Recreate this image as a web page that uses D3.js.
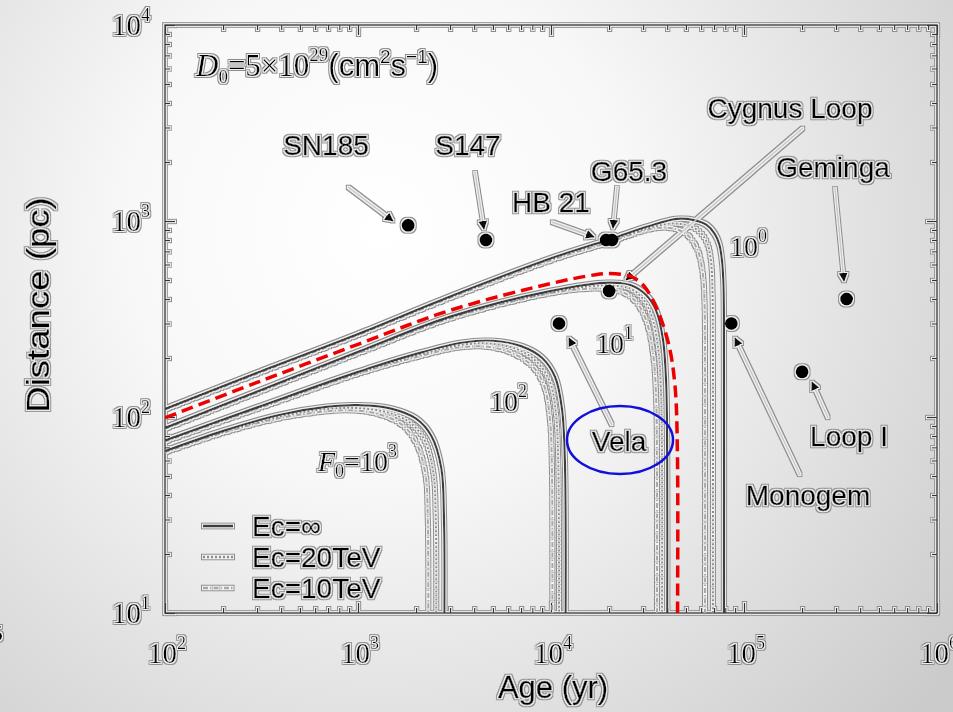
<!DOCTYPE html>
<html><head><meta charset="utf-8">
<script src="https://cdn.jsdelivr.net/npm/d3@7"></script>
<style>
html,body{margin:0;padding:0;background:#fff;}
svg{display:block;}
</style></head><body>
<svg id="chart" width="953" height="712"></svg>
<script>
// Age (yr) / distance (pc) tracks: maximum distance reached for each F0, three cutoff energies
const ecNames = ["Ec=∞", "Ec=20TeV", "Ec=10TeV"];

const f0e0_inf  = [[100,110],[300,168],[1000,265],[3000,412],[10000,645],[20000,805],[32000,940],[45000,1025],[55000,1010],[64000,955],[70500,860],[74500,760],[77000,620],[78300,470],[78700,300],[78700,8]];
const f0e0_20   = [[100,110],[300,168],[1000,264],[3000,410],[10000,640],[20000,795],[32000,920],[42000,970],[51000,950],[59000,880],[64500,770],[67500,620],[68700,430],[69000,220],[69000,8]];
const f0e0_10   = [[100,109],[300,166],[1000,262],[3000,405],[10000,630],[20000,780],[30000,890],[37000,925],[45000,905],[51500,840],[57500,710],[61000,550],[62500,370],[62800,180],[62800,8]];

const f0e1_inf  = [[100,88],[300,135],[1000,215],[3000,325],[10000,440],[20000,485],[26000,470],[31000,420],[35000,350],[38000,250],[39500,150],[40000,60],[40000,8]];
const f0e1_20   = [[100,88],[300,134],[1000,213],[3000,322],[10000,432],[16000,465],[21000,468],[26000,450],[30000,400],[33500,320],[36000,220],[37200,130],[37600,60],[37600,8]];
const f0e1_10   = [[100,87],[300,133],[1000,211],[3000,318],[9000,420],[14000,448],[19000,450],[24000,430],[28000,380],[31500,300],[34000,200],[35100,120],[35400,55],[35400,8]];

const f0e2_inf  = [[100,76],[300,112],[1000,170],[2000,210],[3500,240],[5000,245],[7000,230],[9000,200],[10500,160],[11400,110],[11800,60],[11900,8]];
const f0e2_20   = [[100,76],[300,111],[1000,168],[2000,206],[3500,234],[5000,236],[6800,220],[8500,190],[9900,150],[10600,105],[10900,60],[11000,8]];
const f0e2_10   = [[100,75],[300,110],[1000,166],[2000,202],[3300,226],[4700,228],[6300,212],[8000,182],[9200,145],[9850,100],[10100,58],[10150,8]];

const f0e3_inf  = [[100,67],[200,85],[400,103],[700,113],[1000,115],[1500,110],[2000,98],[2400,80],[2700,55],[2790,30],[2800,8]];
const f0e3_20   = [[100,67],[200,84],[400,101],[700,110],[1000,111],[1400,106],[1850,94],[2200,77],[2450,53],[2530,30],[2540,8]];
const f0e3_10   = [[100,66],[200,83],[400,99],[700,107],[950,108],[1300,103],[1700,91],[2000,74],[2230,52],[2300,30],[2310,8]];

const trackGroups = [
  {f0: "10^0", tracks: [f0e0_inf, f0e0_20, f0e0_10]},
  {f0: "10^1", tracks: [f0e1_inf, f0e1_20, f0e1_10]},
  {f0: "10^2", tracks: [f0e2_inf, f0e2_20, f0e2_10]},
  {f0: "10^3", tracks: [f0e3_inf, f0e3_20, f0e3_10]}
];

// highlighted track (red dashed)
const highlight = [[100,99],[300,150],[1000,235],[3000,350],[10000,480],[17000,532],[20000,540],[23000,535],[26300,518],[30300,466],[35400,356],[40800,233],[43900,144],[45200,64],[45200,8]];

// remnants: name, age (yr), distance (pc)
const snrNames = ["SN185","S147","HB 21","G65.3","Cygnus Loop","Vela","Monogem","Loop I","Geminga"];
const snrAges  = [1820, 4600, 19300, 20700, 20000, 11000, 86000, 200000, 340000];
const snrDist  = [950, 800, 800, 800, 440, 300, 300, 170, 400];

const ageTicks  = [1e2, 1e3, 1e4, 1e5, 1e6];
const distTicks = [1e1, 1e2, 1e3, 1e4];

const W = 953, H = 712;
const svg = d3.select("#chart");
const x = d3.scaleLog().domain([1e2, 1e6]).range([165, 937]);
const y = d3.scaleLog().domain([1e1, 1e4]).range([613, 25]);

// ---- defs: background and ink halo
const defs = svg.append("defs");
const bg = defs.append("radialGradient").attr("id","bg")
  .attr("gradientUnits","userSpaceOnUse").attr("cx",380).attr("cy",230).attr("r",720);
bg.append("stop").attr("offset","0").attr("stop-color","#ffffff");
bg.append("stop").attr("offset","0.35").attr("stop-color","#f8f8f8");
bg.append("stop").attr("offset","1").attr("stop-color","#cbcbcb");

const halo = defs.append("filter").attr("id","halo").attr("filterUnits","userSpaceOnUse")
  .attr("x",0).attr("y",0).attr("width",W).attr("height",H);
halo.append("feMorphology").attr("in","SourceAlpha").attr("operator","dilate").attr("radius",2.2).attr("result","d2");
halo.append("feFlood").attr("flood-color","#8c8c8c").attr("result","c2");
halo.append("feComposite").attr("in","c2").attr("in2","d2").attr("operator","in").attr("result","outer");
halo.append("feMorphology").attr("in","SourceAlpha").attr("operator","dilate").attr("radius",1.1).attr("result","d1");
halo.append("feFlood").attr("flood-color","#f2f2f2").attr("result","c1");
halo.append("feComposite").attr("in","c1").attr("in2","d1").attr("operator","in").attr("result","inner");
const hm = halo.append("feMerge");
hm.append("feMergeNode").attr("in","outer");
hm.append("feMergeNode").attr("in","inner");
hm.append("feMergeNode").attr("in","SourceGraphic");

defs.append("clipPath").attr("id","plotClip").append("rect")
  .attr("x",165).attr("y",25).attr("width",772).attr("height",588);

const ah = defs.append("marker").attr("id","arrow").attr("viewBox","0 0 10 10")
  .attr("refX",9).attr("refY",5).attr("markerWidth",9).attr("markerHeight",9)
  .attr("markerUnits","userSpaceOnUse").attr("orient","auto");
ah.append("path").attr("d","M0,0L10,5L0,10Z").attr("fill","#111");

svg.append("rect").attr("width",W).attr("height",H).attr("fill","url(#bg)");

const ink = svg.append("g").attr("filter","url(#halo)");

const SERIF = "'Liberation Serif','DejaVu Serif',serif";
const SANS = "'Liberation Sans',Arial,sans-serif";
const TXT = "#050505";

// ---- axes: inward ticks on all four sides
const minorAge = [];
for (let e = 2; e < 6; e++) for (let m = 2; m <= 9; m++) minorAge.push(m * Math.pow(10, e));
const minorDist = [];
for (let e = 1; e < 4; e++) for (let m = 2; m <= 9; m++) minorDist.push(m * Math.pow(10, e));

function axisG(gen, tx, ty) {
  const g = ink.append("g").attr("transform", `translate(${tx},${ty})`).call(gen);
  g.selectAll("text").remove();
  g.select(".domain").remove();
  g.selectAll("line").attr("stroke","#333").attr("stroke-width",1.3);
  return g;
}
axisG(d3.axisBottom(x).tickValues(ageTicks).tickSize(-10), 0, 613);
axisG(d3.axisBottom(x).tickValues(minorAge).tickSize(-5), 0, 613);
axisG(d3.axisTop(x).tickValues(ageTicks).tickSize(-10), 0, 25);
axisG(d3.axisTop(x).tickValues(minorAge).tickSize(-5), 0, 25);
axisG(d3.axisLeft(y).tickValues(distTicks).tickSize(-10), 165, 0);
axisG(d3.axisLeft(y).tickValues(minorDist).tickSize(-5), 165, 0);
axisG(d3.axisRight(y).tickValues(distTicks).tickSize(-10), 937, 0);
axisG(d3.axisRight(y).tickValues(minorDist).tickSize(-5), 937, 0);

ink.append("rect").attr("x",165).attr("y",25).attr("width",772).attr("height",588)
  .attr("fill","none").attr("stroke","#3a3a3a").attr("stroke-width",1.6);

// tick labels as 10^n
function powLabel(sel, n, small, raise) {
  sel.append("tspan").text("10");
  sel.append("tspan").attr("font-size", small).attr("dy", -raise).text(n);
}
ageTicks.forEach(v => {
  const t = ink.append("text").attr("x", x(v) + 2).attr("y", 663)
    .attr("text-anchor","middle").attr("font-family",SERIF).attr("font-size",29).attr("fill",TXT);
  powLabel(t, Math.round(Math.log10(v)), 18, 14);
});
distTicks.forEach(v => {
  const t = ink.append("text").attr("x", 150).attr("y", y(v) + 10)
    .attr("text-anchor","end").attr("font-family",SERIF).attr("font-size",29).attr("fill",TXT);
  powLabel(t, Math.round(Math.log10(v)), 18, 14);
});

// axis titles
ink.append("text").attr("x",553).attr("y",698).attr("text-anchor","middle")
  .attr("font-family",SANS).attr("font-size",31).attr("fill",TXT).attr("stroke",TXT).attr("stroke-width",0.4).text("Age (yr)");
ink.append("text").attr("transform","translate(49,305) rotate(-90) scale(1.18,1)").attr("text-anchor","middle")
  .attr("font-family",SANS).attr("font-size",31).attr("fill",TXT).attr("stroke",TXT).attr("stroke-width",0.4).text("Distance (pc)");

// ---- tracks
const line = d3.line().x(d => x(d[0])).y(d => y(d[1])).curve(d3.curveCatmullRom.alpha(0.5));
const ecStyle = [
  {stroke:"#3c3c3c", width:2.2, dash:null},
  {stroke:"#8a8a8a", width:2.0, dash:"2,2"},
  {stroke:"#a8a8a8", width:2.0, dash:"5,2,1.5,2"}
];
const plot = ink.append("g").attr("clip-path","url(#plotClip)");
trackGroups.forEach(gp => {
  gp.tracks.slice().reverse().forEach((tr, i) => {
    const s = ecStyle[gp.tracks.length - 1 - i];
    plot.append("path").datum(tr).attr("d", line).attr("fill","none")
      .attr("stroke", s.stroke).attr("stroke-width", s.width)
      .attr("stroke-dasharray", s.dash);
  });
});

// ---- curve labels
function f0Label(px, py, n, withF) {
  const t = ink.append("text").attr("x",px).attr("y",py)
    .attr("font-family",SERIF).attr("font-size",28).attr("fill",TXT);
  if (withF) {
    t.append("tspan").attr("font-style","italic").text("F");
    t.append("tspan").attr("font-size",18).attr("dy",6).text("0");
    t.append("tspan").attr("dy",-6).text("=10");
  } else {
    t.append("tspan").text("10");
  }
  t.append("tspan").attr("font-size",18).attr("dy",-14).text(n);
}
f0Label(730, 256, "0", false);
f0Label(596, 353, "1", false);
f0Label(490, 411, "2", false);
f0Label(318, 471, "3", true);

// ---- diffusion coefficient note
const dn = ink.append("text").attr("x",196).attr("y",76).attr("font-family",SERIF).attr("font-size",31).attr("fill",TXT);
dn.append("tspan").attr("font-style","italic").text("D");
dn.append("tspan").attr("font-size",19).attr("dy",7).text("0");
dn.append("tspan").attr("dy",-7).text("=5×10");
dn.append("tspan").attr("font-size",19).attr("dy",-15).text("29");
dn.append("tspan").attr("dy",15).attr("font-family",SANS).text("(cm");
dn.append("tspan").attr("font-size",19).attr("dy",-13).attr("font-family",SANS).text("2");
dn.append("tspan").attr("dy",13).attr("font-family",SANS).text("s");
dn.append("tspan").attr("font-size",19).attr("dy",-13).attr("font-family",SANS).text("−1");
dn.append("tspan").attr("dy",13).attr("font-family",SANS).text(")");

// ---- legend
const legY = [526, 557, 588];
ecNames.forEach((name, i) => {
  const s = ecStyle[i];
  ink.append("line").attr("x1",203).attr("x2",233).attr("y1",legY[i]).attr("y2",legY[i])
    .attr("stroke", s.stroke).attr("stroke-width", s.width + 0.5).attr("stroke-dasharray", s.dash);
  ink.append("text").attr("x",252).attr("y",legY[i] + 10).attr("font-family",SANS)
    .attr("font-size",28).attr("fill",TXT).attr("stroke",TXT).attr("stroke-width",0.4).text(name);
});

// ---- remnant markers, labels and arrows
const labelPos = [[326,155],[468,155],[551,212],[629,181],[790,118],[619,451],[808,505],[849,446],[833,177]];
const arrowFrom = [[348,187],[475,172],[552,222],[617,187],[803,128],[612,425],[800,475],[828,418],[835,188]];
const arrowTo   = [[393,221],[484,229],[594,237],[613,228],[626,280],[569,338],[735,338],[812,382],[844,281]];

snrNames.forEach((name, i) => {
  ink.append("line").attr("x1",arrowFrom[i][0]).attr("y1",arrowFrom[i][1])
    .attr("x2",arrowTo[i][0]).attr("y2",arrowTo[i][1])
    .attr("stroke","#c8c8c8").attr("stroke-width",1.4).attr("marker-end","url(#arrow)");
  ink.append("text").attr("x",labelPos[i][0]).attr("y",labelPos[i][1]).attr("text-anchor","middle")
    .attr("font-family",SANS).attr("font-size",28).attr("fill",TXT).attr("stroke",TXT).attr("stroke-width",0.4).text(name);
});
ink.append("g").selectAll("circle").data(snrNames).join("circle")
  .attr("cx",(d,i) => x(snrAges[i])).attr("cy",(d,i) => y(snrDist[i])).attr("r",6.5).attr("fill","#050505");

// stray glyph at the left margin
ink.append("text").attr("x",-9).attr("y",641).attr("font-family",SERIF).attr("font-size",24).attr("fill",TXT).text("5");

// ---- highlighted track and circled label (drawn on top, without halo)
svg.append("path").datum(highlight).attr("d", line).attr("clip-path","url(#plotClip)")
  .attr("fill","none").attr("stroke","#ee0000").attr("stroke-width",3.5).attr("stroke-dasharray","12,6");
svg.append("ellipse").attr("cx",620).attr("cy",440).attr("rx",53).attr("ry",34)
  .attr("fill","none").attr("stroke","#1010dd").attr("stroke-width",2.5);
</script></body></html>
